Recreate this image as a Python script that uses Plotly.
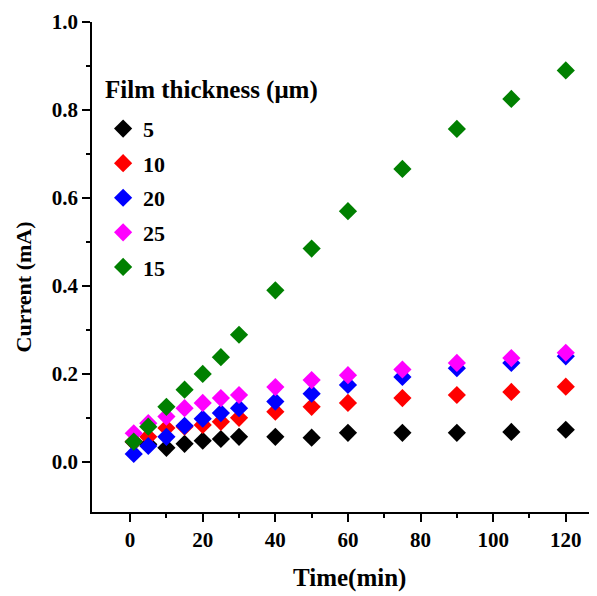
import plotly.graph_objects as go

time_min = [1, 5, 10, 15, 20, 25, 30, 40, 50, 60, 75, 90, 105, 120]
series_names = ["5", "10", "20", "25", "15"]
current_5 = [0.045, 0.040, 0.032, 0.041, 0.048, 0.052, 0.057, 0.057, 0.055, 0.066, 0.066, 0.066, 0.068, 0.073]
current_10 = [0.046, 0.057, 0.077, 0.080, 0.084, 0.091, 0.100, 0.114, 0.125, 0.134, 0.145, 0.152, 0.159, 0.171]
current_20 = [0.018, 0.036, 0.057, 0.082, 0.098, 0.111, 0.122, 0.137, 0.155, 0.175, 0.193, 0.213, 0.225, 0.240]
current_25 = [0.065, 0.088, 0.103, 0.122, 0.134, 0.145, 0.152, 0.170, 0.186, 0.197, 0.210, 0.225, 0.236, 0.248]
current_15 = [0.046, 0.080, 0.125, 0.164, 0.200, 0.238, 0.289, 0.390, 0.485, 0.570, 0.666, 0.757, 0.825, 0.890]
colors = ["#000000", "#ff0000", "#0000ff", "#ff00ff", "#008000"]
x_ticks = [0, 20, 40, 60, 80, 100, 120]
y_ticks = [0.0, 0.2, 0.4, 0.6, 0.8, 1.0]

all_series = [current_5, current_10, current_20, current_25, current_15]

FONT = "Liberation Serif"
fig = go.Figure()
for i, (name, vals, col) in enumerate(zip(series_names, all_series, colors)):
    fig.add_trace(go.Scatter(
        x=time_min, y=vals, mode="markers", name="<b>%s</b>" % name,
        legendgroup="g%d" % i,
        marker=dict(symbol="diamond", size=14, color=col),
    ))

fig.update_layout(
    width=589, height=588,
    margin=dict(l=84, r=0, t=14, b=84),
    plot_bgcolor="white", paper_bgcolor="white",
    font=dict(family=FONT, size=20, color="black"),
    showlegend=True,
    legend=dict(
        x=0.022, y=0.825, xanchor="left", yanchor="top",
        bgcolor="rgba(0,0,0,0)",
        font=dict(family=FONT, size=22, color="black"),
        tracegroupgap=3,
        itemwidth=30,
    ),
    xaxis=dict(
        range=[-10.5, 128.6], showgrid=False, zeroline=False,
        showline=True, linecolor="black", linewidth=1.5,
        ticks="outside", ticklen=8, tickwidth=1.5, tickcolor="black",
        tickvals=x_ticks,
        ticktext=["<b>%d</b>" % v for v in x_ticks],
        minor=dict(tickvals=[10, 30, 50, 70, 90, 110], ticks="outside", ticklen=4, tickwidth=1.5, tickcolor="black"),
        tickfont=dict(family=FONT, size=21),
    ),
    yaxis=dict(
        range=[-0.114, 1.0], showgrid=False, zeroline=False,
        showline=True, linecolor="black", linewidth=1.5,
        ticks="outside", ticklen=8, tickwidth=1.5, tickcolor="black",
        tickvals=y_ticks,
        ticktext=["<b>%.1f</b>" % v for v in y_ticks],
        minor=dict(tickvals=[0.1, 0.3, 0.5, 0.7, 0.9], ticks="outside", ticklen=4, tickwidth=1.5, tickcolor="black"),
        tickfont=dict(family=FONT, size=21),
    ),
    annotations=[
        dict(text="<b>Film thickness (μm)</b>", xref="paper", yref="paper", x=0.0218, y=0.861,
             xanchor="left", yanchor="middle", showarrow=False,
             font=dict(family=FONT, size=25)),
        dict(text="<b>Time(min)</b>", xref="paper", yref="paper", x=0.51, y=-0.135,
             xanchor="center", yanchor="middle", showarrow=False,
             font=dict(family=FONT, size=25)),
        dict(text="<b>Current (mA)</b>", xref="paper", yref="paper", x=-0.136, y=0.459,
             xanchor="center", yanchor="middle", showarrow=False, textangle=-90,
             font=dict(family=FONT, size=22)),
    ],
)

fig.write_html("out.html")
